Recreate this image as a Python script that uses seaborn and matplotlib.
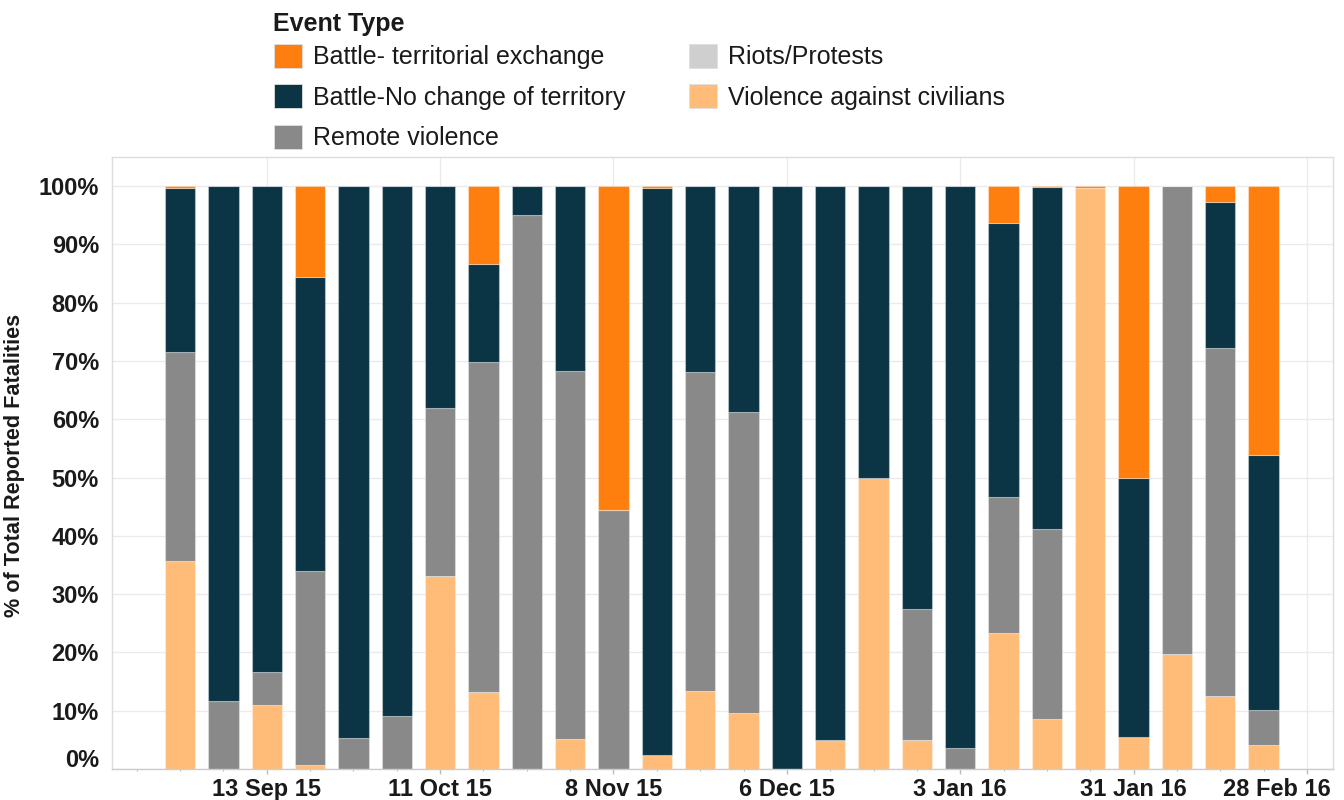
import numpy as np
import pandas as pd
import matplotlib
matplotlib.use("Agg")
import matplotlib.pyplot as plt
import seaborn as sns
from matplotlib.patches import Patch
from matplotlib.transforms import ScaledTranslation

sns.set_theme(style="white")
plt.rcParams["font.family"] = ["Liberation Sans", "DejaVu Sans"]

# ---------------- data (weekly, % of total reported fatalities) ----------------
weeks = ["30 Aug 15", "6 Sep 15", "13 Sep 15", "20 Sep 15", "27 Sep 15", "4 Oct 15",
         "11 Oct 15", "18 Oct 15", "25 Oct 15", "1 Nov 15", "8 Nov 15", "15 Nov 15",
         "22 Nov 15", "29 Nov 15", "6 Dec 15", "13 Dec 15", "20 Dec 15", "27 Dec 15",
         "3 Jan 16", "10 Jan 16", "17 Jan 16", "24 Jan 16", "31 Jan 16", "7 Feb 16",
         "14 Feb 16", "21 Feb 16"]

event_types = ["Battle- territorial exchange", "Battle-No change of territory",
               "Remote violence", "Riots/Protests", "Violence against civilians"]
colors = ["#FF7F0E", "#0B3545", "#898989", "#CFCFCF", "#FFBB78"]

battle_territorial = [0.3, 0, 0, 15.6, 0, 0, 0, 13.3, 0, 0, 55.5, 0.3, 0, 0, 0, 0, 0, 0,
                      0, 6.4, 0.2, 0.3, 50.0, 0, 2.7, 46.1]
battle_no_change = [28.2, 88.3, 83.3, 50.5, 94.6, 90.9, 38.1, 16.8, 4.9, 31.7, 0, 97.3,
                    31.9, 38.8, 100, 95.1, 50.1, 72.6, 96.4, 46.9, 58.6, 0, 44.5, 0, 25.1, 43.7]
remote_violence = [35.8, 11.7, 5.8, 33.2, 5.4, 9.1, 28.8, 56.7, 95.1, 63.2, 44.5, 0,
                   54.7, 51.6, 0, 0, 0, 22.5, 3.6, 23.4, 32.6, 0, 0, 80.2, 59.6, 6.0]
riots_protests = [0] * 26
violence_civilians = [35.7, 0, 10.9, 0.7, 0, 0, 33.1, 13.2, 0, 5.1, 0, 2.4, 13.4, 9.6,
                      0, 4.9, 49.9, 4.9, 0, 23.3, 8.6, 99.7, 5.5, 19.8, 12.6, 4.2]

tick_labels = ["13 Sep 15", "11 Oct 15", "8 Nov 15", "6 Dec 15", "3 Jan 16",
               "31 Jan 16", "28 Feb 16"]
y_tick_values = list(range(0, 101, 10))

series = [battle_territorial, battle_no_change, remote_violence, riots_protests,
          violence_civilians]
rows = []
for name, vals in zip(event_types, series):
    for i, v in enumerate(vals):
        rows.append({"week": i, "label": weeks[i], "type": name, "pct": v})
df = pd.DataFrame(rows)

# ---------------- figure ----------------
fig = plt.figure(figsize=(13.44, 8), dpi=100)
ax = fig.add_axes([112 / 1344, 31 / 800, 1221 / 1344, 612 / 800])

sns.histplot(data=df, x="week", weights="pct", hue="type", hue_order=event_types,
             palette=dict(zip(event_types, colors)), multiple="stack", discrete=True,
             shrink=0.7, alpha=1, legend=False, ax=ax)

for p in ax.patches:
    p.set_alpha(None)
    fc = p.get_facecolor()
    p.set_facecolor((fc[0], fc[1], fc[2], 1))
    p.set_edgecolor((1, 1, 1, 0.35))
    p.set_linewidth(0.8)

ax.set_xlim(-1.57, 26.6)
ax.set_ylim(0, 105)

ax.set_yticks(y_tick_values)
ax.set_yticklabels([f"{v}%" for v in y_tick_values])
ax.set_xticks(np.arange(2, 27, 4))
ax.set_xticklabels(tick_labels)
ax.set_xticks(np.arange(-1, 27), minor=True)

ax.grid(axis="y", which="major", color="#EBEBEB", lw=1)
ax.grid(axis="x", which="major", color="#EBEBEB", lw=1)
ax.set_axisbelow(True)

for s in ["left", "top", "right"]:
    ax.spines[s].set_visible(True)
    ax.spines[s].set_color("#DDDDDD")
    ax.spines[s].set_linewidth(1)
ax.spines["bottom"].set_color("#CCCCCC")
ax.spines["bottom"].set_linewidth(1)

ax.tick_params(axis="x", which="major", bottom=True, length=3.3, width=1,
               color="#BBBBBB", pad=3, labelsize=17, labelcolor="#1a1a1a")
ax.tick_params(axis="x", which="minor", bottom=True, length=1.6, width=0.8,
               color="#BBBBBB")
ax.tick_params(axis="y", left=False, length=0, pad=9.4, labelsize=17,
               labelcolor="#1a1a1a")
for lbl in ax.get_xticklabels() + ax.get_yticklabels():
    lbl.set_fontweight("bold")

# Tableau-style: keep the edge labels inside the chart
t0 = ax.yaxis.get_major_ticks()[0]
t0.label1.set_transform(t0.label1.get_transform()
                        + ScaledTranslation(0, 11 / 100, fig.dpi_scale_trans))
xt = ax.xaxis.get_major_ticks()[-1]
xt.label1.set_horizontalalignment("right")
xt.label1.set_transform(xt.label1.get_transform()
                        + ScaledTranslation(24 / 100, 0, fig.dpi_scale_trans))

ax.set_xlabel("")
ax.set_ylabel("% of Total Reported Fatalities", fontsize=15.6, fontweight="bold",
              color="#1a1a1a")
ax.yaxis.set_label_coords(-0.0713, 0.496)

# legend title + legend
fig.text(273 / 1344, 1 - 31 / 800, "Event Type", fontsize=18, fontweight="bold",
         color="#1a1a1a", ha="left", va="baseline")
handles = [Patch(facecolor=c, edgecolor="#E0E0E0", linewidth=0.6) for c in colors]
leg = fig.legend(handles, event_types, loc="upper left",
                 bbox_to_anchor=(274 / 1344, 1 - 43.5 / 800), ncol=2, frameon=False,
                 fontsize=18, handlelength=1.12, handleheight=1.12,
                 handletextpad=0.44, labelspacing=0.6, columnspacing=2.55,
                 borderpad=0, borderaxespad=0)
for t in leg.get_texts():
    t.set_color("#1a1a1a")

fig.savefig("out.png", dpi=100)
